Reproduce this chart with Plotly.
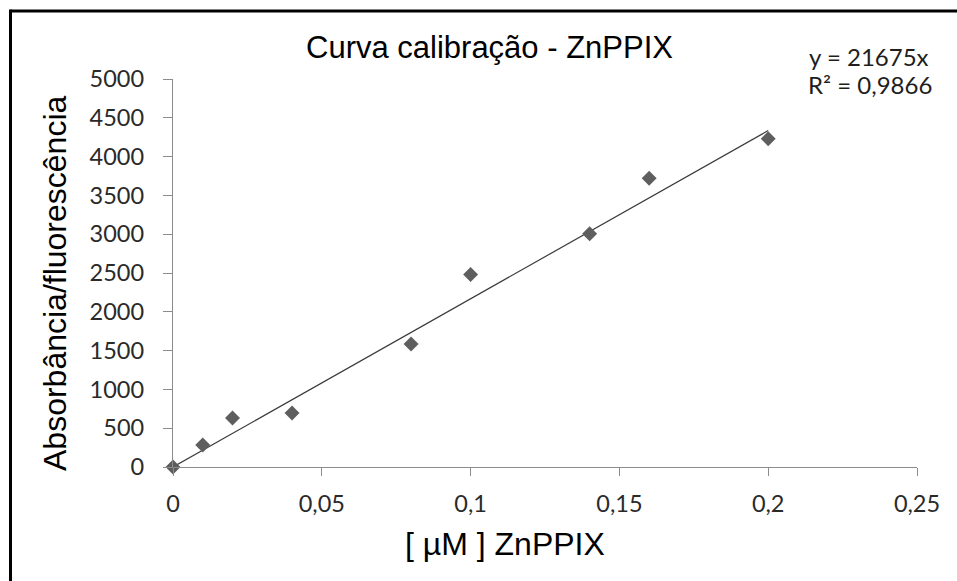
import plotly.graph_objects as go

# Data
conc = [0, 0.01, 0.02, 0.04, 0.08, 0.10, 0.14, 0.16, 0.20]
signal = [0, 283, 631, 696, 1585, 2480, 3005, 3720, 4230]
slope = 21675
r2_text = "R² = 0,9866"
eq_text = "y = 21675x"
trend_x = [0, 0.20]
trend_y = [slope * v for v in trend_x]

x_tickvals = [0, 0.05, 0.10, 0.15, 0.20, 0.25]
x_ticktext = ["0", "0,05", "0,1", "0,15", "0,2", "0,25"]
y_tickvals = [0, 500, 1000, 1500, 2000, 2500, 3000, 3500, 4000, 4500, 5000]
y_ticktext = [str(v) for v in y_tickvals]

W, H = 957, 581
L, R, T, B = 173, 40, 79, 114
pw = W - L - R
ph = H - T - B


def paper_x(p):
    return (p - L) / pw


def paper_y(p):
    return (H - B - p) / ph


fig = go.Figure()
fig.add_trace(go.Scatter(x=trend_x, y=trend_y, mode="lines",
                         line=dict(color="#3a3a3a", width=1.2),
                         hoverinfo="skip", showlegend=False, cliponaxis=False))
fig.add_trace(go.Scatter(x=conc, y=signal, mode="markers",
                         marker=dict(symbol="diamond", size=11.5, color="#5e5e5e",
                                     line=dict(width=0)),
                         showlegend=False, cliponaxis=False))

tickfont = dict(family="Lato, Open Sans, sans-serif", size=23.5, color="#2a2a2a")
fig.update_layout(
    width=W, height=H,
    margin=dict(l=L, r=R, t=T, b=B),
    paper_bgcolor="white", plot_bgcolor="white",
    xaxis=dict(range=[0, 0.25], tickvals=x_tickvals, ticktext=x_ticktext,
               showgrid=False, zeroline=False, showline=True, linecolor="#8c8c8c",
               linewidth=1.3, ticks="outside", ticklen=8, tickcolor="#8c8c8c",
               tickfont=tickfont, ticklabelstandoff=8),
    yaxis=dict(range=[0, 5000], tickvals=y_tickvals, ticktext=y_ticktext,
               showgrid=False, zeroline=False, showline=True, linecolor="#8c8c8c",
               linewidth=1.3, ticks="outside", ticklen=9, tickcolor="#8c8c8c",
               tickfont=tickfont, ticklabelstandoff=14),
    font=dict(family="Liberation Sans, Arial, sans-serif", color="#000"),
)

annots = [
    dict(text="Curva calibração - ZnPPIX", x=paper_x(489), y=paper_y(47),
         font=dict(family="Liberation Sans, Arial", size=31, color="#000")),
    dict(text="Absorbância/fluorescência", x=paper_x(55), y=paper_y(283), textangle=-90,
         font=dict(family="Liberation Sans, Arial", size=32, color="#000")),
    dict(text="[ µM ] ZnPPIX", x=paper_x(505), y=paper_y(544),
         font=dict(family="Liberation Sans, Arial", size=32, color="#000")),
    dict(text=eq_text, x=paper_x(931), y=paper_y(56), xanchor="right",
         font=dict(family="Lato, Open Sans", size=24, color="#1e1e1e")),
    dict(text=r2_text, x=paper_x(934), y=paper_y(85), xanchor="right",
         font=dict(family="Lato, Open Sans", size=24, color="#1e1e1e")),
]
for a in annots:
    a.setdefault("xanchor", "center")
    fig.add_annotation(xref="paper", yref="paper", yanchor="middle", showarrow=False,
                       **a)

# figure border (clipped at the right and bottom in the reference)
fig.add_shape(type="line", xref="paper", yref="paper",
              x0=paper_x(10.5), y0=paper_y(11), x1=paper_x(970), y1=paper_y(11),
              line=dict(color="black", width=3))
fig.add_shape(type="line", xref="paper", yref="paper",
              x0=paper_x(10.5), y0=paper_y(9.5), x1=paper_x(10.5), y1=paper_y(600),
              line=dict(color="black", width=3))

fig.write_html("out.html")
